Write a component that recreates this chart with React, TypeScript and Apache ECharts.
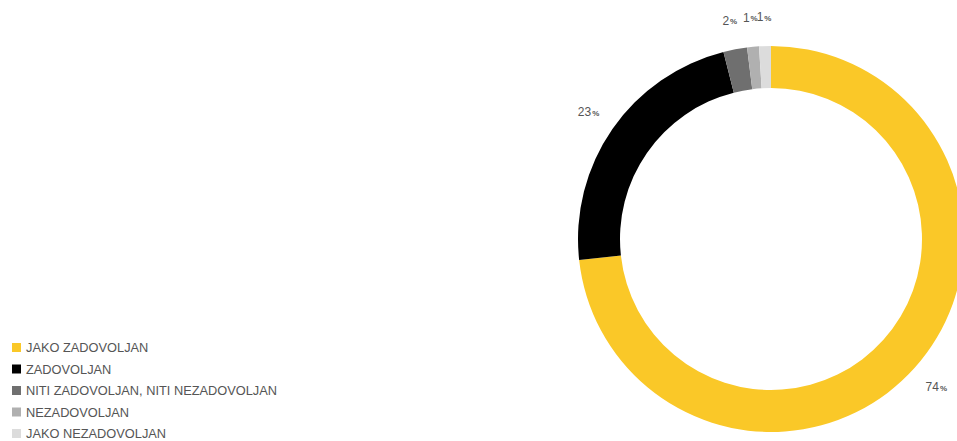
import React, { useEffect, useRef } from "react";
import * as echarts from "echarts";

const categories = [
  "JAKO ZADOVOLJAN",
  "ZADOVOLJAN",
  "NITI ZADOVOLJAN, NITI NEZADOVOLJAN",
  "NEZADOVOLJAN",
  "JAKO NEZADOVOLJAN",
];
const values = [74, 23, 2, 1, 1];
const colors = ["#FAC828", "#000000", "#6f6f6f", "#b0b0b0", "#dcdcdc"];

export default function App() {
  const ref = useRef<HTMLDivElement>(null);
  useEffect(() => {
    if (!ref.current) return;
    const chart = echarts.init(ref.current, undefined, { renderer: "svg" });
    const data = categories.map((name, i) => ({
      name,
      value: values[i],
      itemStyle: { color: colors[i] },
    }));
    chart.setOption({
      animation: false,
      legend: {
        orient: "vertical",
        left: 12,
        top: 341,
        height: 140,
        padding: 0,
        icon: "rect",
        itemWidth: 9,
        itemHeight: 9,
        itemGap: 8.5,
        textStyle: {
          fontFamily: "Liberation Sans, Arial, sans-serif",
          fontSize: 12.8,
          color: "#555",
        },
        data: categories,
      },
      series: [
        {
          type: "pie",
          center: [771, 239],
          radius: [151, 193],
          startAngle: 90,
          clockwise: true,
          silent: true,
          label: { show: false },
          labelLine: { show: false },
          data,
        },
        {
          type: "pie",
          center: [771, 239],
          radius: [205, 233],
          startAngle: 90,
          clockwise: true,
          silent: true,
          avoidLabelOverlap: false,
          labelLayout: { hideOverlap: false },
          itemStyle: { color: "transparent" },
          labelLine: { show: false },
          label: {
            show: true,
            position: "inside",
            formatter: "{v|{c}}{p|%}",
            rich: {
              v: {
                fontFamily: "Liberation Sans, Arial, sans-serif",
                fontSize: 12,
                color: "#555",
              },
              p: {
                fontFamily: "Liberation Sans, Arial, sans-serif",
                fontSize: 8,
                fontWeight: "bold",
                color: "#555",
                padding: [2, 0, 0, 1],
              },
            },
          },
          data: categories.map((name, i) => ({
            name,
            value: values[i],
            itemStyle: { color: "transparent" },
          })),
        },
      ],
    });
    return () => chart.dispose();
  }, []);
  return (
    <div
      ref={ref}
      style={{ position: "fixed", left: 0, top: 0, width: 957, height: 441, background: "#fff" }}
    />
  );
}
